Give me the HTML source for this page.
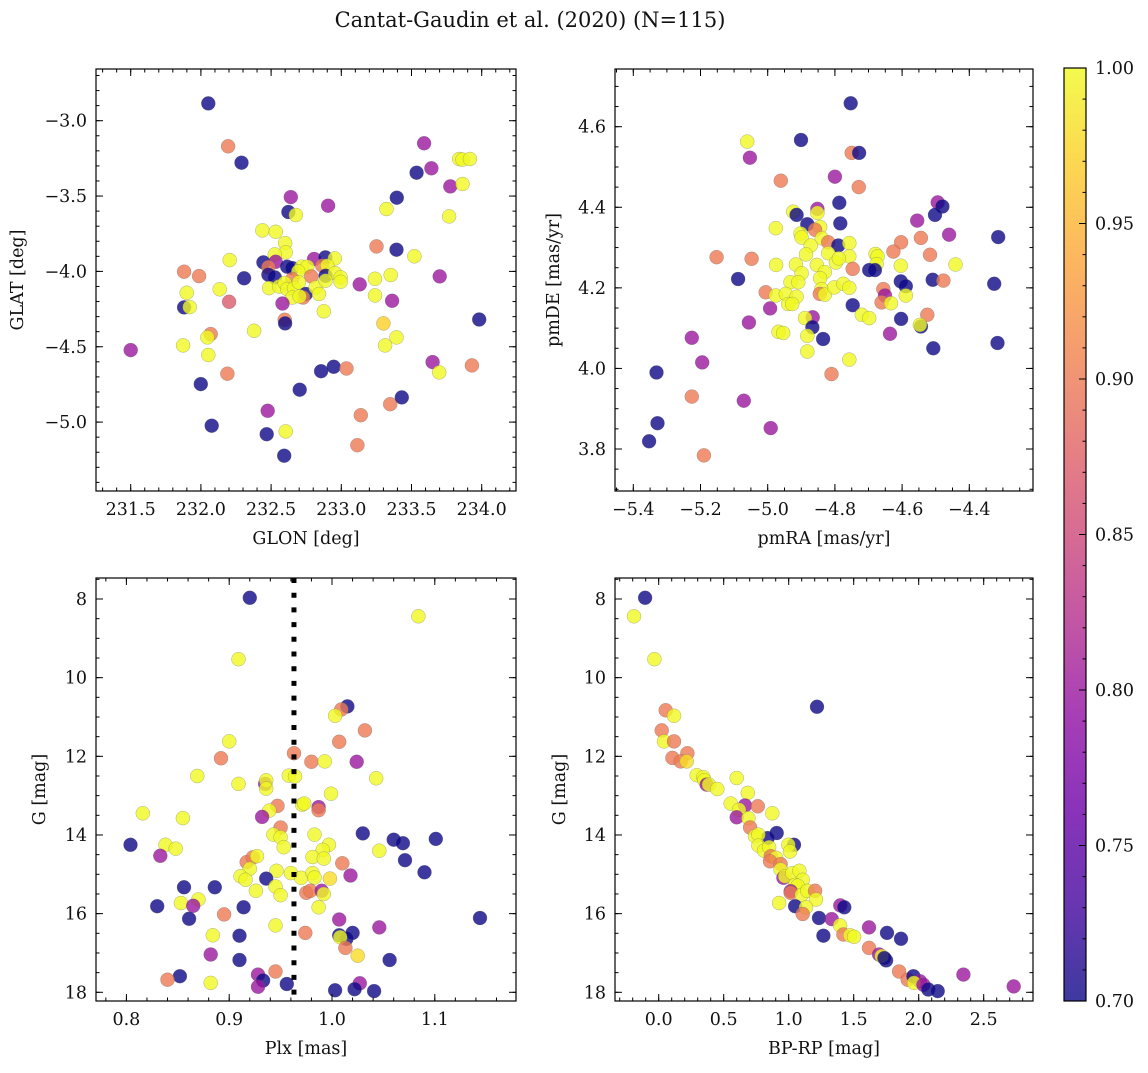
<!DOCTYPE html>
<html><head><meta charset="utf-8">
<style>
html,body{margin:0;padding:0;background:#fff;}
svg text{font-family:"DejaVu Serif","Liberation Serif",serif;fill:#111;}
</style></head>
<body>
<svg id="fig" xmlns="http://www.w3.org/2000/svg" width="1148" height="1068" viewBox="0 0 1148 1068">
<text x="530" y="27" font-size="21" text-anchor="middle">Cantat-Gaudin et al. (2020) (N=115)</text>
</svg>
<script>
// ---------- Data ----------
const glon=[232.053,232.194,232.289,233.590,233.840,233.863,233.916,233.642,233.536,233.776,233.863,233.395,232.640,232.906,232.623,232.676,233.322,233.768,232.438,232.533,232.600,232.604,232.526,233.251,233.393,233.521,232.205,232.806,232.887,232.954,232.445,232.533,232.481,232.615,232.651,232.718,232.758,232.694,231.880,231.987,232.308,232.481,232.526,232.651,232.786,232.865,232.900,232.888,232.955,232.995,232.995,233.131,233.240,233.352,233.701,232.486,232.557,232.597,232.615,232.663,232.698,232.747,232.728,232.651,232.703,232.817,232.841,232.888,232.134,231.899,232.201,232.581,231.880,231.920,233.240,233.362,232.875,232.597,232.600,233.300,233.982,232.070,232.046,232.379,231.873,231.500,232.053,233.312,233.393,232.189,231.999,233.650,233.697,233.930,232.856,232.946,233.037,232.704,233.348,233.431,233.139,232.476,232.604,232.469,232.077,233.115,232.593];
const glat=[-2.885,-3.170,-3.279,-3.150,-3.254,-3.258,-3.254,-3.316,-3.345,-3.436,-3.420,-3.511,-3.507,-3.564,-3.606,-3.626,-3.586,-3.635,-3.728,-3.737,-3.812,-3.874,-3.887,-3.834,-3.856,-3.900,-3.925,-3.918,-3.907,-3.914,-3.940,-3.936,-3.973,-3.969,-3.978,-3.969,-3.969,-4.000,-4.002,-4.031,-4.046,-4.022,-4.040,-4.051,-4.033,-3.962,-3.962,-4.029,-4.011,-4.040,-4.069,-4.086,-4.049,-4.024,-4.033,-4.111,-4.100,-4.077,-4.117,-4.113,-4.073,-4.150,-4.173,-4.173,-4.166,-4.106,-4.150,-4.062,-4.119,-4.142,-4.202,-4.213,-4.239,-4.237,-4.159,-4.195,-4.265,-4.321,-4.345,-4.345,-4.319,-4.416,-4.438,-4.394,-4.491,-4.522,-4.555,-4.491,-4.438,-4.679,-4.748,-4.602,-4.670,-4.624,-4.662,-4.633,-4.644,-4.785,-4.881,-4.836,-4.954,-4.925,-5.062,-5.080,-5.024,-5.153,-5.223];
const probA=[0.70,0.90,0.70,0.80,1,1,1,0.80,0.70,0.80,1,0.70,0.80,0.80,0.70,1,1,1,1,1,1,1,1,0.90,0.70,1,1,0.80,0.70,1,0.70,0.80,0.90,0.70,0.70,1,1,1,0.90,0.90,0.70,0.70,0.70,0.90,0.90,0.90,1,0.70,1,1,1,0.80,1,1,0.80,1,1,1,1,1,1,0.70,0.90,1,1,1,1,1,1,1,0.87,0.80,0.70,1,1,0.80,1,0.90,0.70,0.97,0.70,0.90,1,1,1,0.80,1,1,1,0.90,0.70,0.80,1,0.90,0.70,0.70,0.90,0.70,0.90,0.70,0.90,0.80,1,0.70,0.70,0.90,0.70];

const pmra=[-4.753,-5.061,-4.901,-5.053,-4.750,-4.728,-4.961,-4.800,-4.729,-4.787,-4.494,-4.480,-4.502,-4.555,-4.460,-4.314,-4.924,-4.914,-4.852,-4.852,-4.882,-4.784,-4.976,-4.844,-4.859,-4.902,-4.899,-4.839,-4.820,-4.790,-4.757,-4.603,-4.544,-4.626,-4.517,-4.872,-4.886,-4.820,-4.757,-5.152,-5.048,-4.975,-4.916,-4.854,-4.797,-4.788,-4.679,-4.673,-4.676,-4.604,-4.441,-4.747,-4.698,-4.681,-4.899,-4.830,-4.844,-5.088,-4.932,-4.909,-4.604,-4.589,-4.509,-4.477,-4.326,-5.006,-4.976,-4.946,-4.914,-4.840,-4.845,-4.830,-4.802,-4.775,-4.757,-4.656,-4.651,-4.661,-4.633,-4.589,-4.939,-4.927,-4.993,-4.747,-4.525,-4.720,-4.698,-4.603,-4.866,-4.889,-4.867,-5.056,-4.544,-4.547,-4.968,-4.954,-4.882,-4.835,-4.636,-4.507,-4.316,-4.882,-4.757,-5.226,-5.195,-5.331,-4.810,-5.226,-5.071,-5.328,-4.991,-5.353,-5.190];
const pmde=[4.658,4.563,4.567,4.523,4.535,4.535,4.466,4.476,4.450,4.411,4.412,4.402,4.381,4.367,4.332,4.326,4.389,4.381,4.396,4.386,4.358,4.360,4.348,4.351,4.344,4.335,4.325,4.323,4.313,4.305,4.311,4.313,4.324,4.290,4.282,4.305,4.283,4.286,4.278,4.276,4.272,4.257,4.258,4.257,4.263,4.273,4.284,4.278,4.259,4.255,4.258,4.247,4.244,4.244,4.236,4.239,4.224,4.222,4.214,4.214,4.216,4.204,4.220,4.218,4.210,4.189,4.181,4.185,4.178,4.197,4.185,4.183,4.201,4.210,4.200,4.197,4.181,4.164,4.162,4.181,4.160,4.160,4.149,4.157,4.133,4.133,4.125,4.123,4.127,4.125,4.102,4.114,4.104,4.108,4.091,4.088,4.081,4.073,4.086,4.050,4.063,4.042,4.022,4.076,4.015,3.990,3.986,3.930,3.920,3.864,3.852,3.819,3.784];
const probB=[0.70,1,0.70,0.80,0.90,0.70,0.90,0.80,0.90,0.70,0.80,0.70,0.70,0.80,0.80,0.70,1,0.70,0.80,1,0.70,0.70,1,1,0.90,1,1,1,0.90,0.70,1,0.90,0.90,0.90,0.90,1,1,1,1,0.90,0.90,1,1,1,1,1,1,1,1,1,1,0.90,0.70,0.70,1,1,1,0.70,1,1,0.70,0.70,0.70,0.90,0.70,0.90,1,1,1,1,0.90,1,1,1,1,0.90,0.80,0.90,1,1,1,1,0.80,0.70,0.90,1,1,0.70,0.80,1,0.70,0.80,0.70,1,1,1,1,0.70,0.80,0.70,0.70,1,1,0.80,0.80,0.70,0.90,0.90,0.80,0.70,0.80,0.70,0.90];

const plx=[0.920,1.084,0.909,1.015,1.009,1.003,1.032,1.007,0.900,0.892,0.963,0.980,0.993,1.024,0.869,0.909,0.935,0.936,0.936,0.958,0.964,1.043,0.999,0.816,0.855,0.947,0.939,0.932,0.971,0.973,0.987,0.987,0.950,0.943,0.950,0.953,0.983,1.030,1.060,1.069,1.101,0.804,0.838,0.848,0.833,0.997,0.991,0.981,0.992,1.046,1.071,1.010,0.917,0.923,0.927,0.920,0.911,0.916,0.946,0.960,0.970,0.981,0.983,0.998,1.018,1.090,0.936,0.945,0.926,0.950,0.975,0.979,0.990,0.992,0.856,0.886,0.853,0.870,0.865,0.830,0.914,0.861,0.895,0.987,1.007,1.144,0.945,1.046,0.884,0.910,0.974,1.007,1.014,1.020,1.008,1.013,1.025,0.882,0.910,1.056,0.945,0.928,0.933,0.928,0.852,0.840,0.882,0.956,1.027,1.003,1.022,1.041];
const gmagC=[7.97,8.44,9.53,10.73,10.81,10.97,11.34,11.63,11.62,12.05,11.92,12.14,12.13,12.14,12.50,12.70,12.70,12.61,12.82,12.49,12.51,12.56,12.95,13.45,13.57,13.26,13.38,13.54,13.23,13.20,13.29,13.37,13.81,13.99,14.06,14.31,13.99,13.96,14.12,14.21,14.10,14.25,14.25,14.35,14.53,14.25,14.38,14.56,14.60,14.40,14.64,14.72,14.69,14.57,14.54,14.86,15.05,15.14,14.91,14.97,15.09,14.97,15.08,15.11,15.03,14.95,15.11,15.31,15.42,15.53,15.47,15.42,15.42,15.50,15.33,15.33,15.73,15.64,15.80,15.81,15.84,16.13,16.02,15.84,16.15,16.11,16.30,16.35,16.55,16.56,16.49,16.55,16.64,16.49,16.60,16.87,17.07,17.04,17.18,17.18,17.47,17.55,17.70,17.86,17.59,17.68,17.76,17.79,17.77,17.95,17.92,17.97];
const probC=[0.70,1,1,0.70,0.90,1,0.90,0.90,1,0.90,0.90,0.90,1,0.80,1,1,0.80,1,1,1,1,1,1,1,1,0.90,1,0.80,1,1,0.80,0.90,0.90,1,1,1,1,0.70,0.70,0.70,0.70,0.70,1,1,0.80,1,1,1,1,1,0.70,0.90,0.90,0.90,1,1,1,1,1,1,1,1,1,0.98,0.80,0.70,0.70,1,1,1,0.90,0.90,0.80,1,0.70,0.70,1,1,0.80,0.70,0.70,0.70,0.90,1,0.80,0.70,1,0.80,1,0.70,0.90,0.70,0.70,0.70,1,0.90,0.98,0.80,0.70,0.70,0.90,0.80,0.70,0.80,0.70,0.90,1,0.70,0.80,0.70,0.70,0.70];
const plxMean=[0.963];

const bprp=[-0.105,-0.190,-0.033,1.218,0.054,0.118,0.023,0.041,0.118,0.221,0.105,0.169,0.215,0.292,0.344,0.351,0.369,0.387,0.451,0.600,0.685,0.554,0.664,0.618,0.762,0.600,0.690,0.874,0.703,0.908,0.838,0.741,0.767,1.041,0.997,1.010,0.767,0.810,0.849,0.862,0.903,0.856,0.938,0.938,0.959,0.972,1.028,1.082,1.108,1.049,1.069,1.015,1.015,1.100,1.144,1.203,1.210,0.926,1.049,1.133,1.108,1.233,1.331,1.397,1.428,1.267,1.395,1.421,1.472,1.503,1.618,1.756,1.864,1.618,1.695,1.749,1.715,1.849,1.915,1.959,2.010,1.964,2.036,2.074,2.146,2.344,2.731,1.736];
const gmagD=[7.97,8.44,9.53,10.74,10.83,10.97,11.34,11.62,11.62,11.92,12.04,12.13,12.13,12.48,12.53,12.61,12.72,12.72,12.83,12.55,12.93,13.20,13.25,13.36,13.27,13.55,13.57,13.45,13.81,13.95,14.08,14.03,13.99,14.25,14.25,14.42,14.27,14.40,14.31,14.54,14.58,14.67,14.74,14.88,15.09,15.05,14.97,14.91,15.14,15.27,15.29,15.43,15.47,15.52,15.42,15.42,15.64,15.73,15.81,15.84,16.01,16.11,16.14,15.79,15.84,16.56,16.30,16.53,16.55,16.59,16.35,16.49,16.64,16.87,17.04,17.19,17.08,17.47,17.68,17.59,17.72,17.76,17.81,17.93,17.97,17.55,17.85,17.13];
const probD=[0.70,1,1,0.70,0.90,1,0.90,1,0.90,0.90,0.90,0.90,0.98,1,1,1,0.80,1,1,1,1,1,0.80,1,0.90,0.80,1,1,0.90,0.70,0.70,1,1,0.70,1,1,1,1,1,0.90,1,0.90,0.90,1,0.80,1,1,1,1,1,1,0.80,0.90,1,1,0.90,1,1,0.70,1,0.90,0.70,0.80,0.80,0.70,0.70,1,0.90,1,1,0.80,0.70,0.70,0.90,0.80,0.70,1,0.90,0.90,0.70,0.80,1,0.80,0.70,0.70,0.80,0.80,0.70];

// tick label arrays
const ticksA_x=[231.5,232.0,232.5,233.0,233.5,234.0];
const ticksA_y=[-3.0,-3.5,-4.0,-4.5,-5.0];
const ticksB_x=[-5.4,-5.2,-5.0,-4.8,-4.6,-4.4];
const ticksB_y=[4.6,4.4,4.2,4.0,3.8];
const ticksC_x=[0.8,0.9,1.0,1.1];
const ticksG=[8,10,12,14,16,18];
const ticksD_x=[0.0,0.5,1.0,1.5,2.0,2.5];
const ticksCbar=[0.70,0.75,0.80,0.85,0.90,0.95,1.00];

// ---------- helpers ----------
const NS='http://www.w3.org/2000/svg';
const svg=document.getElementById('fig');
const FS=17.5;
function mk(tag,attrs,parent){const e=document.createElementNS(NS,tag);for(const k in attrs)e.setAttribute(k,attrs[k]);(parent||svg).appendChild(e);return e;}
function lin(d0,d1,r0,r1){return v=>r0+(v-d0)*(r1-r0)/(d1-d0);}
const stops=[[13,8,135],[65,4,157],[106,0,168],[143,13,164],[177,42,144],[204,71,120],[225,100,98],[242,132,75],[252,166,54],[252,206,37],[240,249,33]];
function plasma(t){t=Math.max(0,Math.min(1,t));const f=t*10,i=Math.min(9,Math.floor(f)),u=f-i;const a=stops[i],b=stops[i+1];return 'rgb('+a.map((c,k)=>Math.round(c+(b[k]-c)*u)).join(',')+')';}
const cval=p=>plasma((p-0.7)/0.3);
function fmt(v,d){return (v<0?'\u2212':'')+Math.abs(v).toFixed(d);}

function panel(cfg){
  const g=mk('g',{});
  
  
  const {L,T,R,B}=cfg;
  const sx=lin(cfg.xd[0],cfg.xd[1],cfg.xr[0],cfg.xr[1]);
  const sy=lin(cfg.yd[0],cfg.yd[1],cfg.yr[0],cfg.yr[1]);
  const cp='clip-'+cfg.name;
  const cpe=mk('clipPath',{id:cp},g);mk('rect',{x:L,y:T,width:R-L,height:B-T},cpe);
  const pts=mk('g',{'clip-path':'url(#'+cp+')'},g);
  for(let i=0;i<cfg.xs.length;i++){
    const c=mk('circle',{cx:sx(cfg.xs[i]).toFixed(1),cy:sy(cfg.ys[i]).toFixed(1),r:7,fill:cval(cfg.ps[i]),'fill-opacity':0.8,stroke:'#666','stroke-opacity':0.5,'stroke-width':0.5},pts);
    
    
  }
  if(cfg.vline){
    const vl=mk('line',{x1:sx(cfg.vline[0]),x2:sx(cfg.vline[0]),y1:T,y2:B,stroke:'#000','stroke-width':5,'stroke-dasharray':'5 9.7'},g);
    
    
  }
  const tk=mk('g',{stroke:'#000','stroke-width':1},g);
  function xt(v,len){const x=sx(v);if(x<L-0.5||x>R+0.5)return;mk('line',{x1:x,x2:x,y1:B,y2:B-len},tk);mk('line',{x1:x,x2:x,y1:T,y2:T+len},tk);}
  function yt(v,len){const y=sy(v);if(y<T-0.5||y>B+0.5)return;mk('line',{x1:L,x2:L+len,y1:y,y2:y},tk);mk('line',{x1:R,x2:R-len,y1:y,y2:y},tk);}
  for(let k=-200;k<=200;k++){const v=cfg.xmin0+k*cfg.xminor;xt(v,3.5);}
  for(let k=-200;k<=200;k++){const v=cfg.ymin0+k*cfg.yminor;yt(v,3.5);}
  cfg.xt.forEach(v=>{xt(v,7);const t=mk('text',{x:sx(v),y:B+24,'font-size':FS,'text-anchor':'middle'},g);t.textContent=fmt(v,cfg.xdec);});
  cfg.yt.forEach(v=>{yt(v,7);const t=mk('text',{x:L-9,y:sy(v)+6,'font-size':FS,'text-anchor':'end'},g);t.textContent=fmt(v,cfg.ydec);});
  mk('rect',{x:L,y:T,width:R-L,height:B-T,fill:'none',stroke:'#000','stroke-width':1.2},g);
  const xl=mk('text',{x:(L+R)/2,y:B+53,'font-size':FS,'text-anchor':'middle'},g);xl.textContent=cfg.xlab;
  
  const yl=mk('text',{x:cfg.ylx,y:(T+B)/2,'font-size':FS,'text-anchor':'middle',transform:'rotate(-90 '+cfg.ylx+' '+(T+B)/2+')'},g);yl.textContent=cfg.ylab;
  
}

panel({name:'panel-glon-glat',L:96,T:69,R:516,B:491,xd:[231.5,234.0],xr:[130.7,481.7],yd:[-3.0,-5.0],yr:[120.7,422.1],
  xs:glon,ys:glat,ps:probA,xt:ticksA_x,yt:ticksA_y,xmin0:231.5,xminor:0.1,ymin0:-3.0,yminor:0.1,xdec:1,ydec:1,xlab:'GLON [deg]',ylab:'GLAT [deg]',ylx:23});
panel({name:'panel-propermotion',L:615,T:69,R:1033,B:491,xd:[-5.4,-4.4],xr:[633.3,969.3],yd:[4.6,3.8],yr:[126.7,449],
  xs:pmra,ys:pmde,ps:probB,xt:ticksB_x,yt:ticksB_y,xmin0:-5.4,xminor:0.05,ymin0:4.6,yminor:0.05,xdec:1,ydec:1,xlab:'pmRA [mas/yr]',ylab:'pmDE [mas/yr]',ylx:559});
panel({name:'panel-plx-g',L:96,T:578,R:516,B:1001,xd:[0.8,1.1],xr:[126.4,434.8],yd:[8,18],yr:[599,992.3],
  xs:plx,ys:gmagC,ps:probC,vline:plxMean,xt:ticksC_x,yt:ticksG,xmin0:0.8,xminor:0.02,ymin0:8,yminor:0.5,xdec:1,ydec:0,xlab:'Plx [mas]',ylab:'G [mag]',ylx:45});
panel({name:'panel-cmd',L:615,T:578,R:1033,B:1001,xd:[0,2.5],xr:[658.7,983.7],yd:[8,18],yr:[599,992.3],
  xs:bprp,ys:gmagD,ps:probD,xt:ticksD_x,yt:ticksG,xmin0:0,xminor:0.1,ymin0:8,yminor:0.5,xdec:1,ydec:0,xlab:'BP-RP [mag]',ylab:'G [mag]',ylx:565});

// ---------- colorbar ----------
const cb=mk('g',{});


const defs=mk('defs',{},cb);
const lg=mk('linearGradient',{id:'cbg',x1:0,y1:1,x2:0,y2:0},defs);
for(let i=0;i<=10;i++){mk('stop',{offset:i/10,'stop-color':plasma(i/10),'stop-opacity':0.8},lg);}
const cT=68,cB=1001,cL=1064,cR=1086;
const cy=lin(0.7,1.0,cB,cT);
mk('rect',{x:cL,y:cT,width:cR-cL,height:cB-cT,fill:'url(#cbg)',stroke:'#000','stroke-width':1.2},cb);
for(let k=0;k<=30;k++){const v=0.7+k*0.01;const y=cy(v);const major=k%5===0;mk('line',{x1:cR,x2:cR-(major?7:3.5),y1:y,y2:y,stroke:'#000','stroke-width':1},cb);}
ticksCbar.forEach(v=>{const t=mk('text',{x:1095,y:cy(v)+6,'font-size':FS},cb);t.textContent=v.toFixed(2);});
</script>
</body></html>
